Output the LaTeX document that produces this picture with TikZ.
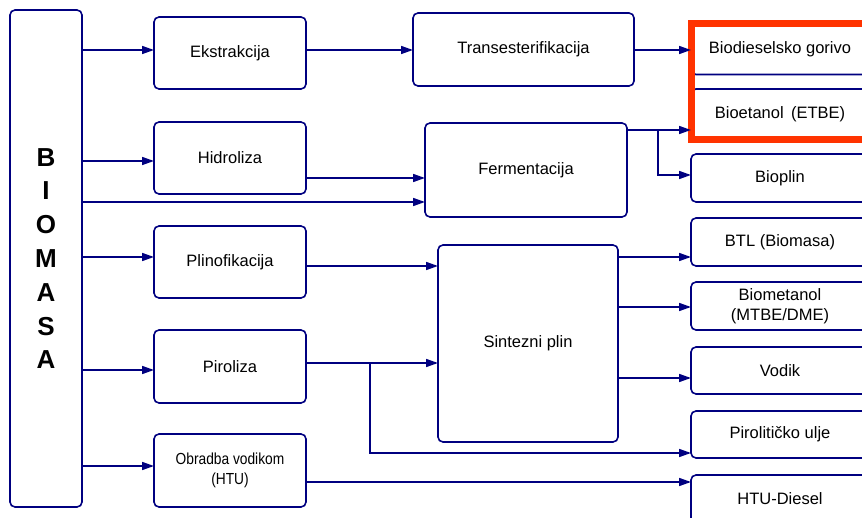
\documentclass[tikz,border=0pt]{standalone}
\usepackage{fontspec}
\setmainfont{Liberation Sans}
\newfontfamily\condfont[FakeStretch=0.86]{Liberation Sans}
\usetikzlibrary{arrows.meta}
\definecolor{navy}{RGB}{0,0,128}
\definecolor{hred}{RGB}{255,51,0}
\begin{document}
\begin{tikzpicture}[x=1pt,y=-1pt,
  box/.style={draw=navy, line width=1.6pt, rounded corners=5pt, fill=white, inner sep=0pt, outer sep=0pt, align=center, font=\fontsize{16.5}{20}\selectfont},
  arr/.style={draw=navy, line width=1.6pt, -{Triangle[length=12pt,width=8pt]}},
  ln/.style={draw=navy, line width=1.6pt}]
\useasboundingbox (0,0) rectangle (862,518);
\clip (0,0) rectangle (862,518);
% left column
\node[box, minimum width=72pt, minimum height=497pt, font=\bfseries\fontsize{26}{33.8}\selectfont] (bio) at (46,258.5) {B\\I\\O\\M\\A\\S\\A};
\node[box, minimum width=152pt, minimum height=72pt] (ekst) at (230,53) {Ekstrakcija};
\node[box, minimum width=152pt, minimum height=72pt] (hidr) at (230,158) {Hidroliza};
\node[box, minimum width=152pt, minimum height=72pt] (plin) at (230,262) {Plinofikacija};
\node[box, minimum width=152pt, minimum height=73pt] (piro) at (230,366.5) {Piroliza};
\node[box, minimum width=152pt, minimum height=73pt, font=\condfont\fontsize{16}{20}\selectfont] (htu) at (230,470.5) {Obradba vodikom\\(HTU)};
% middle column
\node[box, minimum width=221pt, minimum height=73pt] (trans) at (523.5,49.5) {Transesterifikacija};
\node[box, minimum width=202pt, minimum height=94pt] (ferm) at (526,170) {Fermentacija};
\node[box, minimum width=180pt, minimum height=197pt] (sint) at (528,343.5) {Sintezni plin};
% right column
\node[box, minimum width=178pt, minimum height=50pt] (biod) at (780,49.5) {Biodieselsko gorivo};
\node[box, minimum width=178pt, minimum height=50pt] (bioet) at (780,114) {Bioetanol\, (ETBE)};
\node[box, minimum width=178pt, minimum height=48pt] (bioplin) at (780,178) {Bioplin};
\node[box, minimum width=178pt, minimum height=48pt] (btl) at (780,242) {BTL (Biomasa)};
\node[box, minimum width=178pt, minimum height=48pt] (biomet) at (780,306) {Biometanol\\(MTBE/DME)};
\node[box, minimum width=178pt, minimum height=47pt] (vodik) at (780,370.5) {Vodik};
\node[box, minimum width=178pt, minimum height=47pt] (pirol) at (780,434.5) {Pirolitičko ulje};
\node[box, minimum width=178pt, minimum height=48pt] (htud) at (780,499) {HTU-Diesel};
% red highlight
\node[draw=hred, line width=7pt, minimum width=200pt, minimum height=116pt, inner sep=0pt, outer sep=0pt, anchor=north west] (hl) at (691,23.5) {};
% connectors from biomass
\draw[arr] (bio.east |- 0,50) -- (ekst.west |- 0,50);
\draw[arr] (bio.east |- 0,161) -- (hidr.west |- 0,161);
\draw[arr] (bio.east |- 0,202) -- (ferm.west |- 0,202);
\draw[arr] (bio.east |- 0,257) -- (plin.west |- 0,257);
\draw[arr] (bio.east |- 0,370) -- (piro.west |- 0,370);
\draw[arr] (bio.east |- 0,466) -- (htu.west |- 0,466);
% other connectors
\draw[arr] (ekst.east |- 0,50) -- (trans.west |- 0,50);
\draw[arr] (trans.east |- 0,50) -- (hl.west |- 0,50);
\draw[arr] (hidr.east |- 0,178) -- (ferm.west |- 0,178);
\draw[arr] (ferm.east |- 0,130) -- (hl.west |- 0,130);
\coordinate (fb) at (658,130);
\draw[arr] (fb) |- (bioplin.west |- 0,175);
\draw[arr] (plin.east |- 0,266) -- (sint.west |- 0,266);
\draw[arr] (piro.east |- 0,363) -- (sint.west |- 0,363);
\coordinate (pb) at (370,363);
\draw[arr] (pb) |- (pirol.west |- 0,453);
\draw[arr] (htu.east |- 0,482) -- (htud.west |- 0,482);
\draw[arr] (sint.east |- 0,257) -- (btl.west |- 0,257);
\draw[arr] (sint.east |- 0,307) -- (biomet.west |- 0,307);
\draw[arr] (sint.east |- 0,378) -- (vodik.west |- 0,378);
\end{tikzpicture}
\end{document}
